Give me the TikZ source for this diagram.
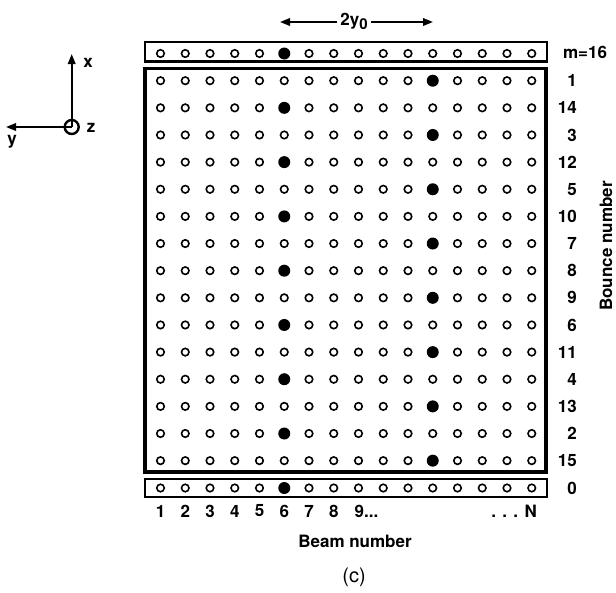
\documentclass[tikz,border=0pt]{standalone}
\usepackage{fontspec}
\setmainfont{TeX Gyre Heros}
\usetikzlibrary{arrows.meta}
\begin{document}
\begin{tikzpicture}[x=1pt,y=-1pt,
 opendot/.style={circle,draw,line width=1.6pt,inner sep=0pt,minimum size=7.5pt},
 fulldot/.style={circle,fill,inner sep=0pt,minimum size=12pt},
 lab/.style={font=\bfseries\fontsize{17}{19}\selectfont,inner sep=0pt},
 stripbox/.style={draw,line width=2.2pt},
 mainbox/.style={draw,line width=3.4pt},
 arr/.style={-{Triangle[length=10pt,width=7.5pt]},line width=1.8pt}]
\useasboundingbox (0,0) rectangle (616,592);
% boxes
\draw[stripbox] (145,42) rectangle (547,61.5);
\draw[mainbox] (145,68.5) rectangle (546,472);
\draw[stripbox] (145,479.3) rectangle (547,496.7);
% top strip m=16
\foreach \k in {1,...,16}{
  \pgfmathsetmacro{\xx}{160.5+(\k-1)*24.75}
  \ifnum\k=6
    \node[fulldot] (t-\k) at (\xx,53.5) {};
  \else
    \node[opendot] (t-\k) at (\xx,53.5) {};
  \fi
}
\node[lab] (m16) at (585,52) {m=16};
% bottom strip 0
\foreach \k in {1,...,16}{
  \pgfmathsetmacro{\xx}{160.5+(\k-1)*24.75}
  \ifnum\k=6
    \node[fulldot] (b-\k) at (\xx,488) {};
  \else
    \node[opendot] (b-\k) at (\xx,488) {};
  \fi
}
\node[lab,anchor=east] (l0) at (577,488) {0};
% main rows
\foreach \lab [count=\i] in {1,14,3,12,5,10,7,8,9,6,11,4,13,2,15}{
  \pgfmathsetmacro{\yy}{80.7+(\i-1)*27.14}
  \pgfmathtruncatemacro{\fc}{isodd(\lab)?12:6}
  \foreach \k in {1,...,16}{
    \pgfmathsetmacro{\xx}{160.5+(\k-1)*24.75}
    \ifnum\k=\fc
      \node[fulldot] (r\i-\k) at (\xx,\yy) {};
    \else
      \node[opendot] (r\i-\k) at (\xx,\yy) {};
    \fi
  }
  \node[lab,anchor=east] (l\i) at (577,\yy) {\lab};
}
% beam numbers
\foreach \k in {1,...,8}{
  \pgfmathsetmacro{\xx}{160.5+(\k-1)*24.75}
  \node[lab] (n\k) at (\xx,511) {\k};
}
\node[lab,anchor=west] (n9) at (354.5,511) {9...};
\node[lab,anchor=east] (nN) at (537,511) {. . . N};
\node[lab] (beam) at (355,541) {Beam number};
\node[font=\fontsize{20}{22}\selectfont,inner sep=0pt] (cap) at (354,577) {(c)};
\node[lab,rotate=90] (bounce) at (606,246) {Bounce number};
% 2y0
\node[lab] (ty) at (354,21) {2y\raisebox{-0.45ex}{\fontsize{15}{17}\selectfont 0}};
\coordinate (la) at (280,22);
\coordinate (ra) at (433,22);
\draw[arr,shorten <=3pt] (ty.west|-la) -- (la);
\draw[arr,shorten <=3pt] (ty.east|-ra) -- (ra);
% axes
\coordinate (o) at (71.7,127);
\node[circle,draw,line width=2.4pt,inner sep=0pt,minimum size=14pt] (zc) at (o) {};
\coordinate (xt) at (71.7,54);
\coordinate (yt) at (6,127);
\draw[arr] (o) -- (xt);
\draw[arr] (o) -- (yt);
\node[lab] (xl) at (88,63) {x};
\node[lab] (zl) at (91,128) {z};
\node[lab] (yl) at (12,142) {y};
\end{tikzpicture}
\end{document}
